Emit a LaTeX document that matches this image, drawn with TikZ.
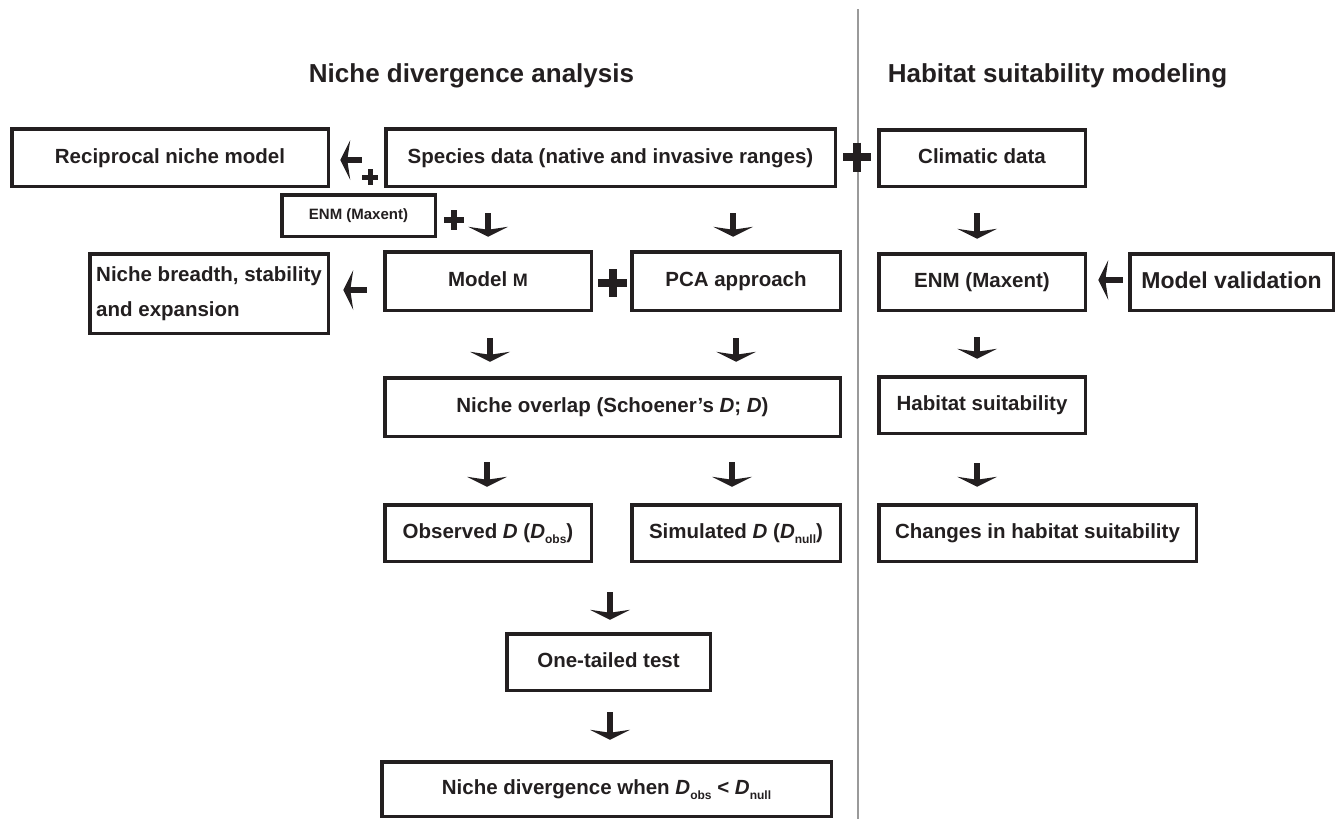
\documentclass[tikz,border=0pt]{standalone}
\usepackage{fontspec}
\setmainfont{Liberation Sans}
\usetikzlibrary{arrows.meta,calc}
\definecolor{ink}{HTML}{231F20}
\definecolor{divider}{HTML}{9A9A9A}
\newcommand\subx[1]{\raisebox{-4.5pt}{\fontsize{12}{12}\selectfont #1}}
\tikzset{
  boxbase/.style={draw=ink, line width=3.5pt, text=ink, inner sep=0pt, outer sep=0pt,
    font=\fontsize{20.5}{24}\selectfont\bfseries},
  box/.style={boxbase, text height=15pt, text depth=4pt},
  fat/.style={draw=ink, line width=6pt,
    -{Stealth[length=10pt,width=40pt,inset=3pt,line width=0pt]}},
  titletext/.style={text=ink, font=\fontsize{26}{30}\selectfont\bfseries, anchor=base},
  plusbar/.style={draw=ink, line cap=butt},
}
\begin{document}
\begin{tikzpicture}[x=1pt,y=-1pt]
\useasboundingbox (0,0) rectangle (1343,819);
% divider
\draw[divider, line width=2pt] (858,9) -- (858,819);
% titles
\node[titletext] (t1) at (471.5,82) {Niche divergence analysis};
\node[titletext] (t2) at (1057.5,82) {Habitat suitability modeling};
% boxes
\node[box, minimum width=316.5pt, minimum height=57.5pt] (recip) at (170,157.5) {Reciprocal niche model};
\node[box, minimum width=449.5pt, minimum height=57.5pt] (species) at (610.5,157.5) {Species data (native and invasive ranges)};
\node[box, minimum width=206.5pt, minimum height=56.5pt] (climatic) at (982,158) {Climatic data};
\node[box, minimum width=153.5pt, minimum height=41.5pt, font=\fontsize{15}{18}\selectfont\bfseries, text height=11pt, text depth=3pt] (enmsmall) at (358.5,215.5) {ENM (Maxent)};
\node[boxbase, minimum width=238.5pt, minimum height=79.5pt, align=left, font=\fontsize{20.5}{35}\selectfont\bfseries] (breadth) at (209,293.5) {Niche breadth, stability\\and expansion};
\node[box, minimum width=206.5pt, minimum height=58.5pt] (modelM) at (488,281) {Model {\fontsize{18}{18}\selectfont M}};
\node[box, minimum width=208.5pt, minimum height=58.5pt] (pca) at (736,281) {PCA approach};
\node[box, minimum width=206.5pt, minimum height=56.5pt] (enm) at (982,282) {ENM (Maxent)};
\node[box, minimum width=203.5pt, minimum height=56.5pt, font=\fontsize{23}{26}\selectfont\bfseries, text height=17pt, text depth=5pt] (valid) at (1231.5,282) {Model validation};
\node[box, minimum width=455.5pt, minimum height=58.5pt] (overlap) at (612.5,407) {Niche overlap (Schoener’s \textit{D}; \textit{D})};
\node[box, minimum width=206.5pt, minimum height=56.5pt] (habitat) at (982,405) {Habitat suitability};
\node[box, minimum width=206.5pt, minimum height=56.5pt] (observed) at (488,533) {Observed \textit{D} (\textit{D}\subx{obs})};
\node[box, minimum width=208.5pt, minimum height=56.5pt] (simulated) at (736,533) {Simulated \textit{D} (\textit{D}\subx{null})};
\node[box, minimum width=317.5pt, minimum height=56.5pt] (changes) at (1037.5,533) {Changes in habitat suitability};
\node[box, minimum width=203.5pt, minimum height=56.5pt] (onetailed) at (608.5,662) {One-tailed test};
\node[box, minimum width=449.5pt, minimum height=54.5pt] (divergence) at (606.5,789) {Niche divergence when \textit{D}\subx{obs} < \textit{D}\subx{null}};
% down arrows
\draw[fat, shorten <=27pt, shorten >=15pt] (species.south -| modelM.north) -- (modelM.north);
\draw[fat, shorten <=27pt, shorten >=15pt] ([xshift=-3pt]species.south -| pca.north) -- ([xshift=-3pt]pca.north);
\draw[fat, shorten <=27pt, shorten >=15pt] ([xshift=-5pt]climatic.south) -- ([xshift=-5pt]enm.north);
\draw[fat, shorten <=28pt, shorten >=16pt] ([xshift=2pt]modelM.south) -- ([xshift=2pt]modelM.south |- overlap.north);
\draw[fat, shorten <=28pt, shorten >=16pt] (pca.south) -- (pca.south |- overlap.north);
\draw[fat, shorten <=27pt, shorten >=18pt] ([xshift=-5pt]enm.south) -- ([xshift=-5pt]habitat.north);
\draw[fat, shorten <=26pt, shorten >=18pt] ([xshift=-1pt]overlap.south -| observed.north) -- ([xshift=-1pt]observed.north);
\draw[fat, shorten <=26pt, shorten >=18pt] ([xshift=-4pt]overlap.south -| simulated.north) -- ([xshift=-4pt]simulated.north);
\draw[fat, shorten <=30pt, shorten >=18pt] ([xshift=-5pt]habitat.south) -- ([xshift=-5pt]habitat.south |- changes.north);
\draw[fat, shorten <=31pt, shorten >=14pt] ([xshift=1.5pt]observed.south -| onetailed.north) -- ([xshift=1.5pt]onetailed.north);
\draw[fat, shorten <=22pt, shorten >=22pt] ([xshift=1.5pt]onetailed.south) -- ([xshift=1.5pt]onetailed.south |- divergence.north);
% left arrows
\coordinate (ra) at ([yshift=-2.5pt]species.west);
\draw[fat, shorten <=24pt, shorten >=12pt] (ra) -- (ra -| recip.east);
\coordinate (ba) at ([yshift=-9pt]modelM.west);
\draw[fat, shorten <=18pt, shorten >=15pt] (ba) -- (ba -| breadth.east);
\coordinate (va) at ([yshift=2pt]valid.west);
\draw[fat, shorten <=7pt, shorten >=13pt] (va) -- (va -| enm.east);
% plus signs
\draw[plusbar, line width=8pt] (843,157) -- (871,157) (857,142.5) -- (857,171.5);
\draw[plusbar, line width=8pt] (598,283) -- (627,283) (612.5,269) -- (612.5,297);
\draw[plusbar, line width=6pt] (444,220) -- (464,220) (454,210) -- (454,230);
\draw[plusbar, line width=5pt] (362,177) -- (378,177) (370,169) -- (370,185);
\end{tikzpicture}
\end{document}
